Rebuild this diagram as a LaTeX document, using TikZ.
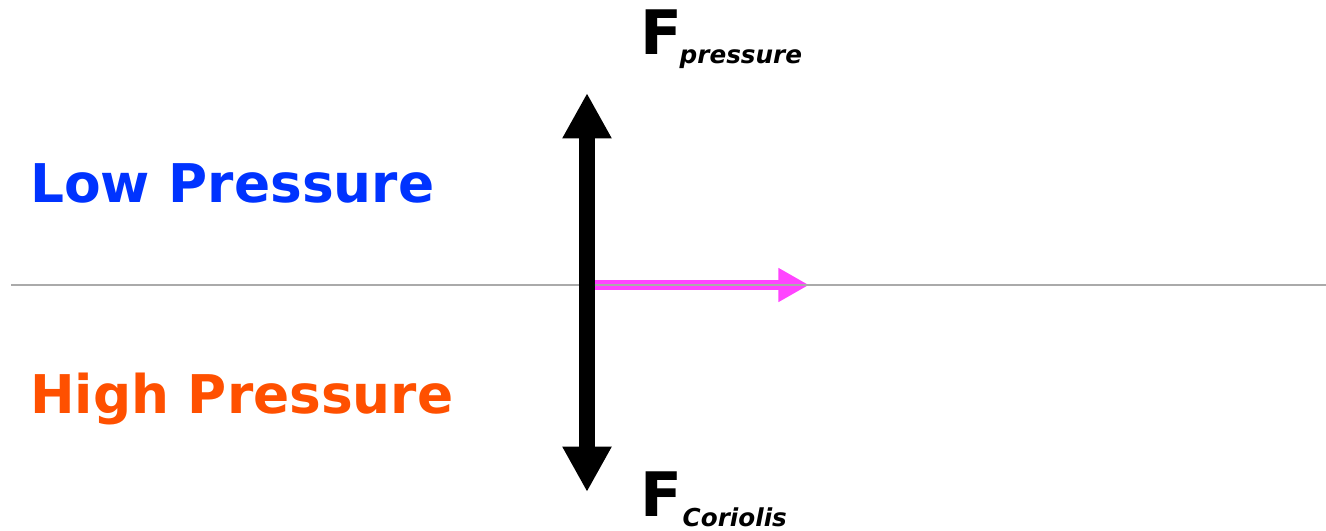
\documentclass[tikz,border=0pt]{standalone}
\usepackage{fontspec}
\setmainfont{DejaVu Sans}
\usetikzlibrary{arrows.meta,positioning}
\definecolor{lowblue}{HTML}{0033FF}
\definecolor{highorange}{HTML}{FF5000}
\definecolor{windpink}{HTML}{FF44FF}
\definecolor{isobargray}{HTML}{AAAAAA}
\tikzstyle{region} = [inner sep=0pt, anchor=base west, font=\fontsize{40}{48}\selectfont\bfseries]
\tikzstyle{forcename} = [inner sep=0pt, anchor=base west, font=\fontsize{46}{55}\selectfont\bfseries]
\tikzstyle{forcesub} = [inner sep=0pt, anchor=base west, font=\fontsize{18.5}{22}\selectfont\bfseries\itshape]
\tikzstyle{isobar} = [draw=isobargray, line width=1.5pt]
\tikzstyle{forcearrow} = [draw=black, line width=12pt, {Triangle[length=34pt, width=34.5pt]}-{Triangle[length=34pt, width=34.5pt]}]
\tikzstyle{windarrow} = [draw=windpink, line width=7.5pt, -{Triangle[length=23pt, width=24pt]}]

\begin{document}
\begin{tikzpicture}[x=0.75pt, y=-0.75pt]
    \useasboundingbox (0,0) rectangle (1326,531);
    % Points
    \coordinate (west) at (11,285);
    \coordinate (east) at (1326,285);
    \coordinate (top) at (587,93);
    \coordinate (bottom) at (587,492);
    \coordinate (origin) at (595,285);
    \coordinate (tip) at (809,285);

    % Labels
    \node [region, text=lowblue] (low) at (30,202) {Low Pressure};
    \node [region, text=highorange] (high) at (30,413) {High Pressure};
    \node [forcename] (fp) at (640,55) {F};
    \node [forcesub] (fpsub) at ([shift={(-3,9)}]fp.base east) {pressure};
    \node [forcename] (fc) at (640,516) {F};
    \node [forcesub] (fcsub) at ([shift={(0,10)}]fc.base east) {Coriolis};

    % Arrows
    \draw [windarrow] (origin) -- (tip);
    \draw [isobar] (west) -- (east);
    \draw [forcearrow] (top) -- (bottom);
\end{tikzpicture}
\end{document}
